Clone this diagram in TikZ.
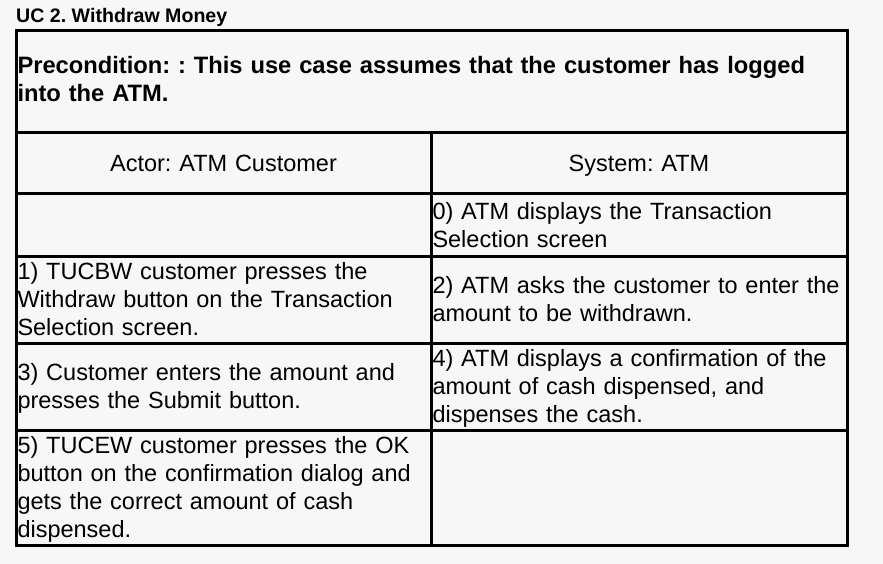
\documentclass[tikz,border=0pt]{standalone}
\usepackage{fontspec}
\setmainfont{Liberation Sans}
\definecolor{pagegray}{HTML}{F7F7F7}
\frenchspacing
\newcommand\cellstrut{\rule[-5.9pt]{0pt}{28pt}}
\begin{document}
\begin{tikzpicture}[x=1pt, y=-1pt,
    cell/.style = {draw, line width=3pt, anchor=north west, inner xsep=1.5pt,
                   inner ysep=0pt, outer sep=0pt, align=left,
                   font=\fontsize{23.5}{28}\selectfont,
                   execute at begin node=\cellstrut, execute at end node=\cellstrut},
    leftcol/.style = {cell, minimum width=415pt, text width=412pt},
    rightcol/.style = {cell, minimum width=416pt, text width=413pt}]
\fill[pagegray] (0,0) rectangle (883,564);
\useasboundingbox (0,0) rectangle (883,564);

\node[anchor=base west, inner sep=0pt, font=\fontsize{19.6}{24}\selectfont\bfseries]
    (title) at (16,23) {UC 2. Withdraw Money};

\node[cell, minimum width=831pt, minimum height=101.7pt, text width=828pt,
      font=\fontsize{23.7}{28}\selectfont\bfseries] (pre) at (16,31)
    {Precondition: : This use case assumes that the customer has logged\\into the ATM.\rule[-9.9pt]{0pt}{1pt}};

\node[leftcol, minimum height=60.6pt, align=center] (hact) at (16,132.7) {Actor: ATM Customer};
\node[rightcol, minimum height=60.6pt, align=center] (hsys) at (431,132.7) {System: ATM};

\node[leftcol, minimum height=63.4pt] (a0) at (16,193.3) {};
\node[rightcol, minimum height=63.4pt] (s0) at (431,193.3)
    {0) ATM displays the Transaction\\Selection screen};

\node[leftcol, minimum height=86.3pt] (a1) at (16,256.7)
    {1) TUCBW customer presses the\\Withdraw button on the Transaction\\Selection screen.};
\node[rightcol, minimum height=86.3pt] (s2) at (431,256.7)
    {2) ATM asks the customer to enter the\\amount to be withdrawn.};

\node[leftcol, minimum height=87pt] (a3) at (16,343)
    {3) Customer enters the amount and\\presses the Submit button.};
\node[rightcol, minimum height=87pt] (s4) at (431,343)
    {4) ATM displays a confirmation of the\\amount of cash dispensed, and\\dispenses the cash.};

\node[leftcol, minimum height=115pt] (a5) at (16,430)
    {5) TUCEW customer presses the OK\\button on the confirmation dialog and\\gets the correct amount of cash\\dispensed.};
\node[rightcol, minimum height=115pt] (s5) at (431,430) {};
\end{tikzpicture}
\end{document}
